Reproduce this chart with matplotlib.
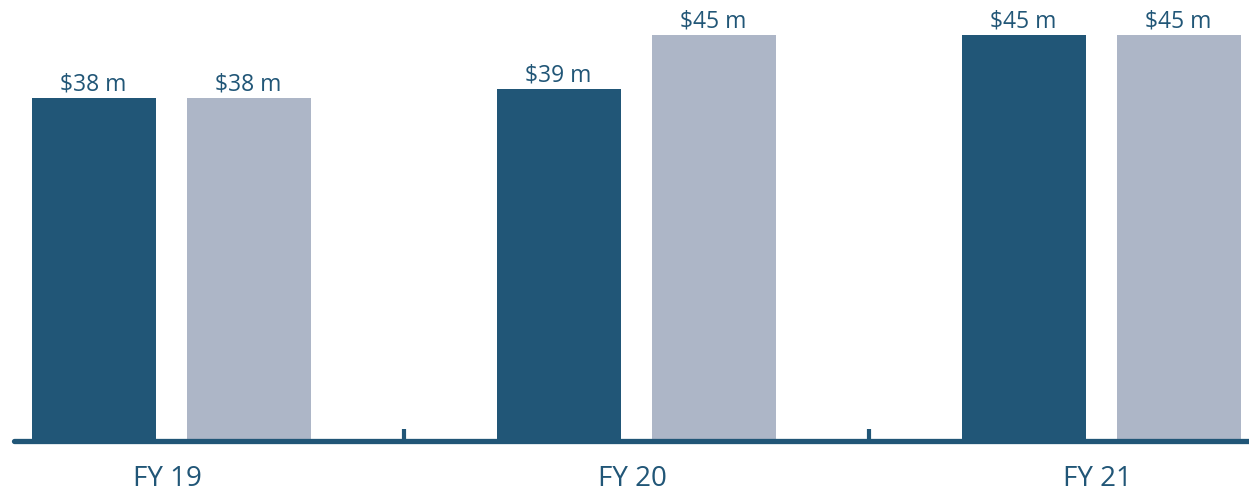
import matplotlib
matplotlib.use('Agg')
import matplotlib.pyplot as plt
import matplotlib.transforms as mtransforms
import numpy as np

plt.rcParams['font.family'] = ['Open Sans', 'DejaVu Sans']

years = ['FY 19', 'FY 20', 'FY 21']
series_a = [38, 39, 45]
series_b = [38, 45, 45]

dark = '#215677'
light = '#adb6c7'

fig = plt.figure(figsize=(12.49, 4.94), dpi=100)
# axes placed in pixel terms: x from 14 to 1249, zero line at y=441 from top
ax = fig.add_axes([14 / 1249, 53 / 494, 1235 / 1249, 441 / 494])

x = np.arange(len(years))
w = 124 / 465
off = 77.5 / 465
bars_a = ax.bar(x - off, series_a, w, color=dark, zorder=1)
bars_b = ax.bar(x + off, series_b, w, color=light, zorder=1)

for bars in (bars_a, bars_b):
    for b in bars:
        ax.annotate(f'${b.get_height():.0f} m', (b.get_x() + b.get_width() / 2, b.get_height()),
                    xytext=(-0.5, 1.5), textcoords='offset points', ha='center', va='bottom',
                    fontsize=16.5, color=dark)

ax.set_xlim((14 - 171.5) / 465, (1249 - 171.5) / 465)
ax.set_ylim(0, 441 / 9.02)

for s in ['top', 'right', 'left']:
    ax.spines[s].set_visible(False)
ax.spines['bottom'].set_linewidth(3.8)
ax.spines['bottom'].set_color(dark)
ax.spines['bottom'].set_capstyle('round')
ax.spines['bottom'].set_zorder(3)

ax.set_yticks([])
ax.set_xticks(x)
ax.set_xticklabels(years, fontsize=20, color=dark)
ax.tick_params(axis='x', which='major', length=0, pad=17)
shift = mtransforms.ScaledTranslation(-4 / 100, 0, fig.dpi_scale_trans)
for lbl in ax.get_xticklabels():
    lbl.set_transform(lbl.get_transform() + shift)
ax.set_xticks([0.5, 1.5], minor=True)
ax.tick_params(axis='x', which='minor', direction='in', length=9, width=3, color=dark)
for t in ax.xaxis.get_minor_ticks():
    t.tick1line.set_solid_capstyle('round')
ax.patch.set_alpha(0)

fig.savefig('out.png', dpi=100)
